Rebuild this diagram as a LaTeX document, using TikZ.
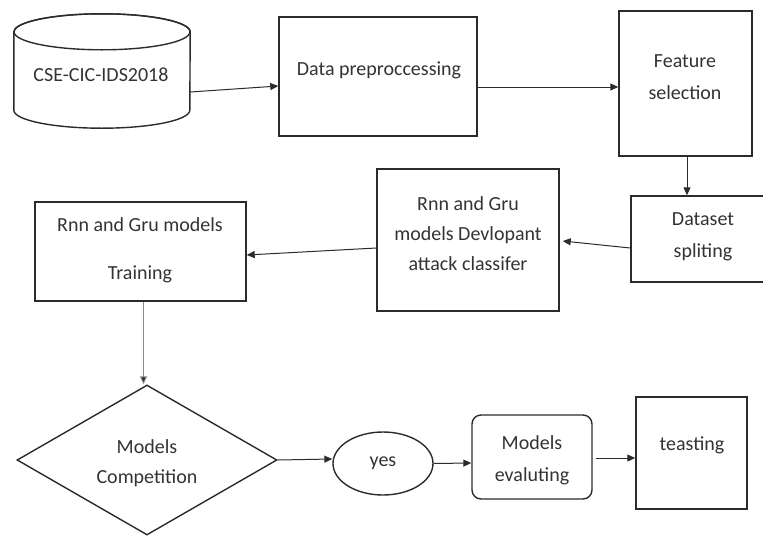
\documentclass[tikz,border=0pt]{standalone}
\usepackage{fontspec}
\setmainfont{Carlito}
\usetikzlibrary{arrows.meta,shapes.geometric}
\definecolor{ink}{HTML}{2B2B2B}
\definecolor{txt}{HTML}{333333}
\begin{document}
\begin{tikzpicture}[x=1pt,y=-1pt,
  lbl/.style={font=\fontsize{20}{30}\selectfont, text=txt, align=center, inner sep=0pt},
  box/.style={draw=ink, line width=1.4pt, rectangle, inner sep=0pt},
  plain/.style={draw=none, rectangle, inner sep=0pt},
  arr/.style={draw=ink, line width=1pt, -{Triangle[length=8pt,width=7pt]}},
  garr/.style={draw=black!45, line width=1pt, -{Triangle[length=8pt,width=7pt,fill=ink]}}
]
\useasboundingbox (0,0) rectangle (763,536);
\clip (0,0) rectangle (763,536);

% shapes
\node[plain, minimum width=176pt, minimum height=114pt] (db) at (102,71) {};
\draw[ink, line width=1.4pt]
  ([yshift=-18pt]db.north west) -- ([yshift=18pt]db.south west)
  arc[start angle=180, end angle=360, x radius=88pt, y radius=18pt]
  -- ([yshift=-18pt]db.north east)
  arc[start angle=0, end angle=180, x radius=88pt, y radius=18pt] -- cycle;
\draw[ink, line width=1.4pt] ([yshift=-18pt]db.north) ellipse[x radius=88pt, y radius=18pt];

\node[box, minimum width=198pt, minimum height=119pt] (pre) at (378,76.5) {};
\node[box, minimum width=133pt, minimum height=145pt] (feat) at (685.5,83.5) {};
\node[box, minimum width=144pt, minimum height=86pt] (split) at (703,239) {};
\node[box, minimum width=182pt, minimum height=142pt] (dev) at (468,240) {};
\node[box, minimum width=211pt, minimum height=99pt] (train) at (140.5,251.5) {};
\node[draw=ink, line width=1.4pt, diamond, aspect=1.733, inner sep=0pt, minimum width=260pt, minimum height=150pt] (comp) at (147,460) {};
\node[draw=ink, line width=1.4pt, ellipse, inner sep=0pt, minimum width=100pt, minimum height=63pt] (yes) at (383,463.5) {};
\node[box, rounded corners=9pt, minimum width=120pt, minimum height=84pt] (eval) at (532,457) {};
\node[box, minimum width=111pt, minimum height=112pt] (test) at (691.5,453) {};

% texts
\node[lbl] (dbT) at (101,75) {CSE-CIC-IDS2018};
\node[lbl] (preT) at (379,70) {Data preproccessing};
\node[lbl] (featT) at (685,77) {Feature\\[2pt]selection};
\node[lbl] (splitT) at (703,237) {Dataset\\[2pt]spliting};
\node[lbl] (devT) at (468,234) {Rnn and Gru\\models Devlopant\\attack classifer};
\node[lbl] (trainT) at (140,250) {Rnn and Gru models\\[18pt]Training};
\node[lbl] (compT) at (147,463) {Models\\Competition};
\node[lbl] (yesT) at (383,463) {yes};
\node[lbl] (evalT) at (532,460) {Models\\[2pt]evaluting};
\node[lbl] (testT) at (692,445) {teasting};

% connectors
\draw[arr] ([yshift=-21pt]db.east) -- ([yshift=-9.5pt]pre.west);
\draw[arr] ([yshift=-10.5pt]pre.east) -- ([yshift=-3.5pt]feat.west);
\draw[arr] ([xshift=1.5pt]feat.south) -- ([xshift=-16pt]split.north);
\draw[arr] ([yshift=-9pt]split.west) -- ([yshift=-1pt,xshift=3pt]dev.east);
\draw[arr] ([yshift=-8pt]dev.west) -- ([yshift=-3.5pt]train.east);
\draw[garr] ([xshift=3pt]train.south) -- ([xshift=-3.5pt]comp.north);
\draw[arr] (comp.east) -- ([yshift=4.5pt]yes.west);
\draw[arr] (yes.east) -- ([yshift=-6pt]eval.west);
\draw[arr] ([xshift=3pt,yshift=-1pt]eval.east) -- ([yshift=-5pt]test.west);
\end{tikzpicture}
\end{document}
